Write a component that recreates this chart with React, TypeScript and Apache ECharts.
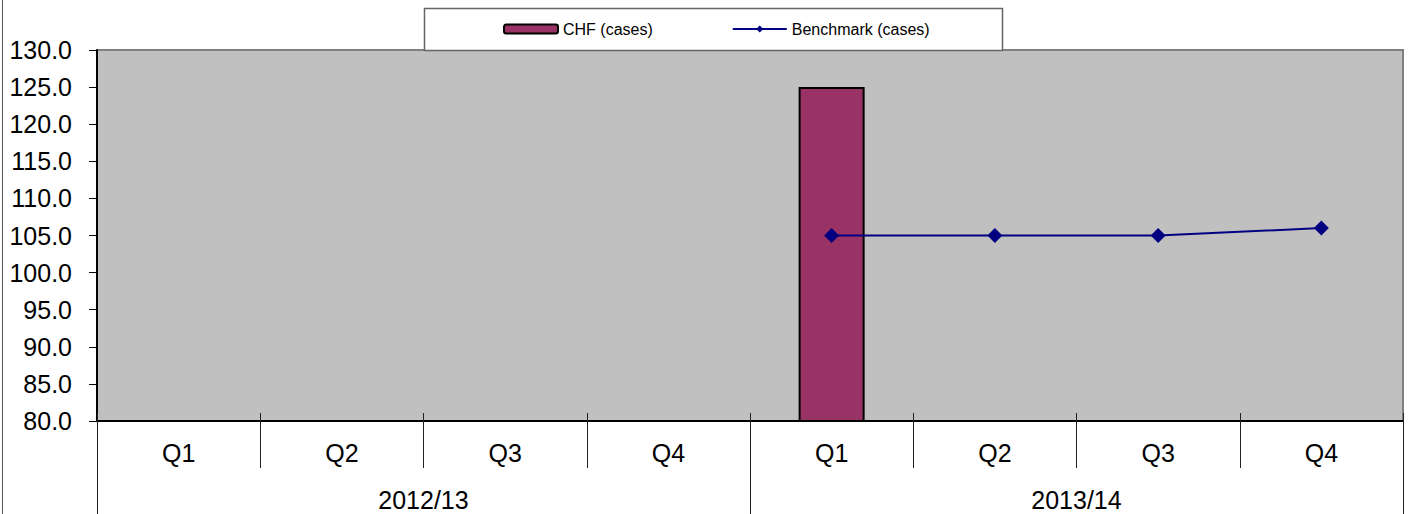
import React, { useEffect, useRef } from "react";
import * as echarts from "echarts";

// Quarter labels, fiscal-year groups and series values
const quarters = ["Q1", "Q2", "Q3", "Q4", "Q1", "Q2", "Q3", "Q4"];
const years = ["2012/13", "2013/14"];
const chfCases: (number | null)[] = [null, null, null, null, 125, null, null, null];
const benchmarkCases: (number | null)[] = [null, null, null, null, 105, 105, 105, 106];
const yMin = 80;
const yMax = 130;
const yStep = 5;

const FONT = "'Liberation Sans', Arial, sans-serif";

export default function App() {
  const ref = useRef<HTMLDivElement>(null);

  useEffect(() => {
    if (!ref.current) return;
    const chart = echarts.init(ref.current, undefined, { renderer: "svg" });

    const option: echarts.EChartsOption = {
      animation: false,
      textStyle: { fontFamily: FONT },
      grid: {
        left: 97,
        right: 7,
        top: 50,
        bottom: 93,
        show: true,
        backgroundColor: "#C0C0C0",
        borderColor: "#808080",
        borderWidth: 2,
      },
      graphic: [
        {
          type: "line",
          shape: { x1: 2.5, y1: 0, x2: 2.5, y2: 514 },
          style: { stroke: "#555", lineWidth: 1 },
          silent: true,
        },
        {
          type: "rect",
          shape: { x: 424.5, y: 8.5, width: 578, height: 42 },
          style: { fill: "#fff", stroke: "#666", lineWidth: 1.5 },
          z: 10,
          silent: true,
        },
      ],
      legend: {
        left: 503,
        top: 21,
        padding: 0,
        itemGap: 79,
        itemWidth: 54,
        itemHeight: 9,
        z: 20,
        textStyle: { fontSize: 16, color: "#000", fontFamily: FONT },
        data: [
          { name: "CHF (cases)" },
          { name: "Benchmark (cases)", lineStyle: { width: 2, color: "#000080" } },
        ],
      },
      xAxis: [
        {
          type: "category",
          data: quarters,
          position: "bottom",
          boundaryGap: true,
          axisLine: { show: true, lineStyle: { color: "#000", width: 2 } },
          axisTick: { show: true, interval: 0, length: 47, lineStyle: { color: "#222", width: 1 } },
          axisLabel: { interval: 0, fontSize: 25, color: "#000", margin: 19, fontFamily: FONT },
          splitLine: { show: false },
        },
        {
          type: "category",
          data: quarters,
          position: "bottom",
          boundaryGap: true,
          axisLine: { show: false },
          axisTick: { show: true, inside: true, interval: 0, length: 8, lineStyle: { color: "#222", width: 1 } },
          axisLabel: { show: false },
          splitLine: { show: false },
        },
        {
          type: "category",
          data: years,
          position: "bottom",
          boundaryGap: true,
          axisLine: { show: false },
          axisTick: { show: true, interval: 0, length: 93, lineStyle: { color: "#222", width: 1 } },
          axisLabel: { interval: 0, fontSize: 25, color: "#000", margin: 66, fontFamily: FONT },
          splitLine: { show: false },
        },
      ],
      yAxis: {
        type: "value",
        min: yMin,
        max: yMax,
        interval: yStep,
        axisLine: { show: true, lineStyle: { color: "#000", width: 2 } },
        axisTick: { show: true, length: 8, lineStyle: { color: "#000", width: 1 } },
        axisLabel: {
          fontSize: 25,
          color: "#000",
          margin: 25,
          fontFamily: FONT,
          formatter: (v: number) => v.toFixed(1),
        },
        splitLine: { show: false },
      },
      series: [
        {
          name: "CHF (cases)",
          type: "bar",
          xAxisIndex: 0,
          data: chfCases,
          barWidth: 66,
          itemStyle: { color: "#993366", borderColor: "#000", borderWidth: 2 },
        },
        {
          name: "Benchmark (cases)",
          type: "line",
          xAxisIndex: 0,
          data: benchmarkCases,
          symbol: "diamond",
          symbolSize: 15,
          lineStyle: { color: "#000080", width: 2 },
          itemStyle: { color: "#000080" },
          z: 5,
        },
      ],
    };

    chart.setOption(option);
    return () => chart.dispose();
  }, []);

  return (
    <div
      ref={ref}
      style={{ position: "fixed", left: 0, top: 0, width: 1410, height: 514, background: "#fff" }}
    />
  );
}
